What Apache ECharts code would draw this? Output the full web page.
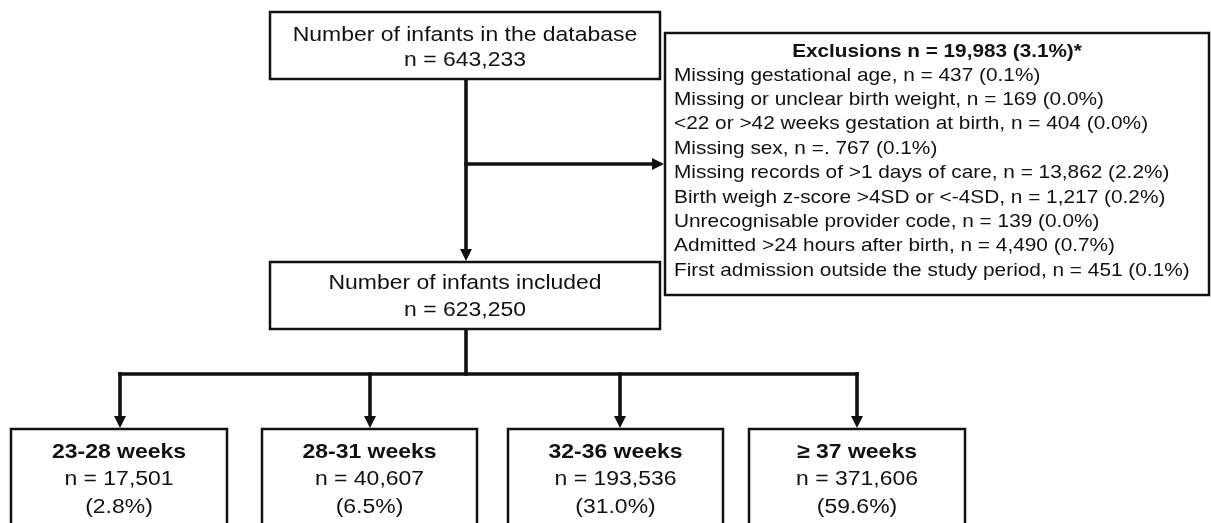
<!DOCTYPE html>
<html><head><meta charset="utf-8">
<script src="https://cdn.jsdelivr.net/npm/echarts@6/dist/echarts.min.js"></script>
<style>html,body{margin:0;padding:0;background:#fff}#c{width:1211px;height:523px}</style>
</head><body><div id="c"></div>
<script>
// ---- data ----
const databaseLabel = "Number of infants in the database";
const databaseN = 643233;
const includedLabel = "Number of infants included";
const includedN = 623250;
const exclusionTitle = "Exclusions";
const exclusionTotalN = 19983;
const exclusionTotalPct = 3.1;
const exclusionReasons = [
  "Missing gestational age",
  "Missing or unclear birth weight",
  "<22 or >42 weeks gestation at birth",
  "Missing sex",
  "Missing records of >1 days of care",
  "Birth weigh z-score >4SD or <-4SD",
  "Unrecognisable provider code",
  "Admitted >24 hours after birth",
  "First admission outside the study period"
];
const exclusionEq = ["=", "=", "=", "=.", "=", "=", "=", "=", "="];
const exclusionN = [437, 169, 404, 767, 13862, 1217, 139, 4490, 451];
const exclusionPct = [0.1, 0.0, 0.0, 0.1, 2.2, 0.2, 0.0, 0.7, 0.1];
const groupLabels = ["23-28 weeks", "28-31 weeks", "32-36 weeks", "\u2265 37 weeks"];
const groupN = [17501, 40607, 193536, 371606];
const groupPct = [2.8, 6.5, 31.0, 59.6];

// ---- layout (diagram space, px-like units) ----
const LAYOUT = {
  topBox: [270, 12, 660, 79],
  midBox: [270, 262, 660, 329],
  exclBox: [665, 33, 1209, 295],
  groupBoxes: [[11, 429, 227, 560], [262, 429, 477, 560], [508, 429, 723, 560], [749, 429, 965, 560]],
  groupArrowX: [120, 370, 620, 857],
  trunkX: 466, exclArrowY: 164, branchY: 374
};
const FONT = '"Liberation Sans", Arial, Helvetica, sans-serif';
const SX = 1.12;
const INK = '#111';

function fmt(n) { return String(n).replace(/\B(?=(\d{3})+(?!\d))/g, ','); }
function pct(p) { return p.toFixed(1) + '%'; }

const boxes = [];
boxes.push({ box: LAYOUT.topBox, lines: [
  { t: databaseLabel, dy: 23 }, { t: 'n = ' + fmt(databaseN), dy: 48 }] });
boxes.push({ box: LAYOUT.midBox, lines: [
  { t: includedLabel, dy: 21 }, { t: 'n = ' + fmt(includedN), dy: 48 }] });
(function () {
  const lines = [{ t: exclusionTitle + ' n = ' + fmt(exclusionTotalN) + ' (' + pct(exclusionTotalPct) + ')*', dy: 19, bold: true, size: 18.5 }];
  exclusionReasons.forEach(function (r, i) {
    lines.push({ t: r + ', n ' + exclusionEq[i] + ' ' + fmt(exclusionN[i]) + ' (' + pct(exclusionPct[i]) + ')',
      dy: 42.5 + i * 24.4, size: 18.6, left: 9 });
  });
  boxes.push({ box: LAYOUT.exclBox, lines: lines });
})();
groupLabels.forEach(function (g, i) {
  boxes.push({ box: LAYOUT.groupBoxes[i], lines: [
    { t: g, dy: 23, bold: true }, { t: 'n = ' + fmt(groupN[i]), dy: 50 }, { t: '(' + pct(groupPct[i]) + ')', dy: 78 }] });
});

const T = LAYOUT.trunkX;
const connectors = [
  { pts: [[T, LAYOUT.topBox[3]], [T, LAYOUT.midBox[1] - 1]], arrow: true },
  { pts: [[T, LAYOUT.exclArrowY], [LAYOUT.exclBox[0] - 1, LAYOUT.exclArrowY]], arrow: true },
  { pts: [[T, LAYOUT.midBox[3]], [T, LAYOUT.branchY]], arrow: false },
  { pts: [[LAYOUT.groupArrowX[0], LAYOUT.branchY], [LAYOUT.groupArrowX[3], LAYOUT.branchY]], arrow: false }
];
LAYOUT.groupArrowX.forEach(function (x, i) {
  connectors.push({ pts: [[x, LAYOUT.branchY], [x, LAYOUT.groupBoxes[i][1] - 1]], arrow: true });
});

const chart = echarts.init(document.getElementById('c'), null, { renderer: 'canvas' });

function renderBox(params, api) {
  const b = boxes[params.dataIndex];
  const p0 = api.coord([b.box[0], b.box[1]]);
  const p1 = api.coord([b.box[2], b.box[3]]);
  const children = [{
    type: 'rect',
    shape: { x: p0[0], y: p0[1], width: p1[0] - p0[0], height: p1[1] - p0[1] },
    style: { fill: '#fff', stroke: INK, lineWidth: 2.5 }
  }];
  const cx = (b.box[0] + b.box[2]) / 2;
  b.lines.forEach(function (ln) {
    const left = ln.left != null;
    const pos = api.coord([left ? b.box[0] + ln.left : cx, b.box[1] + ln.dy]);
    const size = ln.size || 20.5;
    children.push({
      type: 'text', x: pos[0], y: pos[1], scaleX: SX,
      style: {
        text: ln.t, fill: INK,
        font: (ln.bold ? 'bold ' : '') + size + 'px ' + FONT,
        align: left ? 'left' : 'center', verticalAlign: 'middle',
        textAlign: left ? 'left' : 'center', textVerticalAlign: 'middle'
      }
    });
  });
  return { type: 'group', children: children };
}

function renderConnector(params, api) {
  const c = connectors[params.dataIndex];
  const pts = c.pts.map(function (p) { return api.coord(p); });
  const children = [];
  const HL = 12, HW = 6;
  let linePts = pts.slice();
  if (c.arrow) {
    const a = pts[pts.length - 2], e = pts[pts.length - 1];
    const dx = e[0] - a[0], dy = e[1] - a[1];
    const len = Math.sqrt(dx * dx + dy * dy);
    const ux = dx / len, uy = dy / len;
    const base = [e[0] - ux * HL, e[1] - uy * HL];
    linePts[linePts.length - 1] = [e[0] - ux * (HL - 2), e[1] - uy * (HL - 2)];
    children.push({
      type: 'polygon',
      shape: { points: [e, [base[0] - uy * HW, base[1] + ux * HW], [base[0] + uy * HW, base[1] - ux * HW]] },
      style: { fill: INK }
    });
  }
  children.unshift({
    type: 'polyline', shape: { points: linePts },
    style: { stroke: INK, lineWidth: 3.6, fill: null, lineCap: 'square' }
  });
  return { type: 'group', children: children };
}

chart.setOption({
  animation: false,
  backgroundColor: '#fff',
  grid: { left: 0, right: 0, top: 0, bottom: 0 },
  xAxis: { type: 'value', min: 0, max: 1211, show: false },
  yAxis: { type: 'value', min: 0, max: 523, inverse: true, show: false },
  series: [
    { type: 'custom', name: 'connectors', renderItem: renderConnector, silent: true, clip: false,
      data: connectors.map(function (c) { return c.pts[0]; }) },
    { type: 'custom', name: 'boxes', renderItem: renderBox, silent: true, clip: false,
      data: boxes.map(function (b) { return [b.box[0], b.box[1]]; }) }
  ]
});
</script>
</body></html>
